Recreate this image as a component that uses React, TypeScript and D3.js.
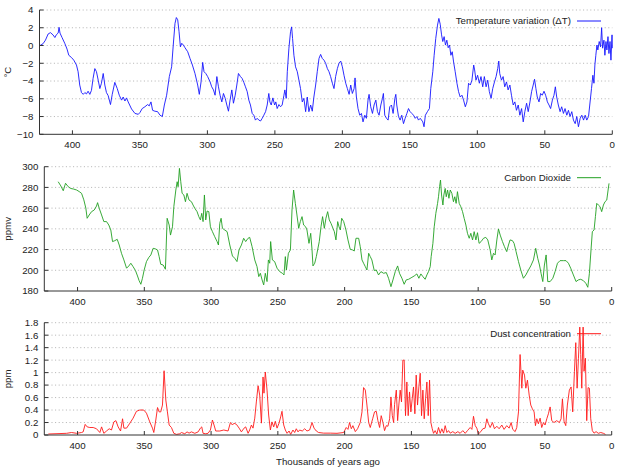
import { scaleLinear, line } from 'd3';

// Vostok ice core records: [thousands of years ago, value]
const temperature: [number, number][] = [
  [424, 0.0], [421.8, 0.2], [420, 0.6], [418, 1.3], [416.3, 1.45], [414.4, 1.2], [413, 0.9], [412, 1.2],
  [410.6, 1.4], [409.9, 2.05], [409.2, 1.4], [407.7, 0.9], [405.7, 0.25], [404, -0.4], [402.7, -1.1],
  [400.7, -1.35], [399, -1.65], [397, -2.2], [395.8, -2.95], [394.6, -4.45], [393.3, -5.3], [392, -5.5],
  [390.8, -5.3], [389.6, -5.45], [388.4, -5.15], [387.1, -5.5], [385.9, -5.05], [384.7, -3.7], [383.4, -2.6],
  [382.2, -2.95], [380.9, -3.9], [379.7, -4.85], [378.5, -4.25], [377.2, -3.15], [376, -4.45], [374.8, -5.3],
  [373.5, -5.65], [371.8, -6.65], [370.5, -5.5], [368.6, -4.15], [366.8, -4.85], [365.3, -5.6], [363.6, -6.15],
  [362.4, -5.8], [361.1, -6.25], [359.9, -5.9], [358.7, -6.35], [356.2, -7.15], [353.7, -7.65], [351.2, -7.75],
  [350, -7.55], [348.3, -7.1], [346.3, -6.9], [344.3, -6.65], [343.1, -6.8], [341.8, -6.35], [340.6, -7.3],
  [338.9, -7.4], [336.9, -7.45], [335.1, -7.85], [333.4, -8.0], [331.9, -6.7], [330.2, -5.6], [328.2, -3.5],
  [326.5, -2.4], [325.3, 0.05], [324, 2.5], [323, 3.15], [322, 2.9], [321, 1.55], [320, -0.15], [319, 0.25],
  [317.8, 0.05], [316.6, -0.25], [314.6, -0.7], [312.9, -1.45], [311.1, -2.2], [309.2, -3.15], [307.2, -4.45],
  [306, -5.5], [304.7, -4.1], [303.5, -1.9], [302.5, -2.95], [301.2, -3.15], [299.8, -3.5], [298, -4.1],
  [296.8, -4.65], [295.5, -5.0], [294.3, -5.6], [293, -3.5], [291.8, -4.65], [290.6, -5.6], [289.3, -6.35],
  [288.1, -5.4], [286.8, -5.95], [285.6, -6.7], [284.4, -7.4], [283.2, -6.15], [281.9, -5.0], [280.7, -6.5],
  [279.4, -5.6], [278.2, -4.45], [277, -3.15], [275.5, -3.5], [274.3, -3.7], [273, -4.15], [271.8, -4.65],
  [270.5, -5.2], [269.3, -6.15], [268.1, -6.7], [266.8, -7.65], [265.6, -7.85], [264.4, -8.4], [263.1, -8.2],
  [261.9, -8.4], [260.6, -8.5], [259.4, -8.2], [258.2, -7.85], [256.9, -7.45], [255.7, -6.7], [254.5, -5.4],
  [253.7, -6.35], [252.7, -6.7], [251.5, -5.9], [250.2, -6.7], [249.3, -6.35], [248.3, -7.1], [247, -6.65],
  [245.8, -6.9], [244.6, -6.7], [243.3, -5.6], [242.6, -5.0], [241.6, -5.95], [240.8, -2.95], [239.6, -0.3],
  [238.4, 1.55], [237.6, 2.1], [236.9, 0.8], [235.9, -1.1], [234.7, -2.4], [233.4, -2.95], [232.2, -3.9],
  [231, -4.85], [229.7, -6.35], [228.5, -5.95], [227.2, -7.45], [226, -5.8], [224.8, -7.45], [223.5, -6.7],
  [222.3, -7.4], [221.1, -5.8], [219.8, -4.45], [218.6, -2.95], [217.3, -1.45], [216.1, -1.0], [214.9, -1.45],
  [213.6, -1.65], [212.4, -2.0], [211.1, -2.6], [209.9, -2.95], [208.7, -3.5], [207.4, -4.25], [206.2, -4.85],
  [205, -3.5], [203.7, -2.6], [202.5, -2.0], [201.2, -1.75], [200, -2.4], [198.8, -3.35], [197.5, -4.25],
  [196.3, -4.85], [195, -5.5], [193.8, -4.45], [192.6, -5.4], [191.3, -4.85], [190.6, -3.65], [189.6, -5.8],
  [188.4, -7.1], [187.1, -7.85], [185.9, -7.65], [184.7, -8.6], [183.4, -7.85], [182.2, -8.2], [181, -6.15],
  [180.2, -5.5], [179, -6.9], [177.7, -7.65], [176.5, -6.7], [175.2, -6.15], [174, -7.45], [172.8, -7.85],
  [171.5, -6.7], [170.3, -5.95], [169.6, -5.4], [168.6, -7.85], [167.3, -8.2], [166.1, -8.4], [164.9, -6.9],
  [163.6, -6.7], [162.4, -7.65], [161.1, -5.95], [160.4, -5.5], [159.7, -6.7], [158.4, -8.0], [157.2, -8.4],
  [156, -7.85], [154.7, -8.8], [153.5, -8.2], [152.2, -7.65], [151, -7.1], [149.8, -7.45], [148.5, -7.65],
  [147.3, -7.85], [146, -8.2], [144.8, -8.0], [143.6, -8.4], [142.3, -8.2], [140.4, -8.6], [139.5, -9.15],
  [138.5, -7.85], [137, -7.45], [135.5, -7.1], [134.5, -4.85], [133, -2.95], [132, -1.1], [130.8, 0.8],
  [129.5, 2.3], [128.5, 3.05], [127.5, 2.4], [126.5, 1.2], [125.6, 0.45], [124.6, 1.0], [123.6, 0.05],
  [122.6, 0.6], [121.6, -0.25], [120.6, 0.05], [119.6, -1.1], [118.6, -0.7], [117.6, -1.85], [116.4, -2.95],
  [115.1, -4.25], [113.9, -5.2], [112.7, -5.8], [111.4, -5.6], [110.2, -6.15], [108.9, -6.9], [107.7, -6.35],
  [106.5, -4.25], [105.2, -4.45], [104, -3.9], [102.7, -2.2], [102, -2.75], [101, -3.9], [99.8, -3.35],
  [98.5, -4.25], [97.3, -3.5], [96, -4.65], [94.8, -3.5], [93.5, -4.65], [92.3, -3.9], [91.1, -5.2],
  [89.8, -5.95], [88.6, -4.85], [87.3, -4.1], [86.1, -3.5], [84.9, -2.6], [84.1, -1.75], [83.4, -3.15],
  [82.1, -3.9], [80.9, -3.5], [79.7, -4.65], [78.4, -4.1], [77.2, -5.0], [75.9, -4.45], [74.7, -5.6],
  [73.4, -6.7], [72.2, -6.35], [71, -7.3], [69.7, -6.7], [68.5, -7.85], [67.2, -7.1], [66, -8.6],
  [64.8, -7.45], [63.5, -6.5], [62.3, -7.45], [61, -6.35], [59.8, -5.2], [58.6, -4.45], [57.6, -3.8],
  [56.6, -4.85], [55.6, -5.8], [54.3, -6.35], [53.1, -5.4], [51.9, -5.6], [50.6, -5.15], [49.4, -5.6],
  [48.1, -6.35], [46.9, -6.7], [45.7, -7.1], [44.4, -6.15], [43.2, -5.6], [42.2, -4.65], [41.2, -5.8],
  [40, -6.7], [38.7, -7.45], [37.5, -6.9], [36.2, -7.65], [35, -7.1], [33.7, -7.85], [32.5, -7.3],
  [31.3, -8.0], [30, -7.45], [28.8, -8.4], [27.5, -8.8], [26.3, -8.0], [25.1, -9.15], [23.8, -8.2],
  [22.6, -7.85], [21.3, -8.4], [20.1, -7.85], [18.9, -8.4], [17.6, -8.0], [16.7, -6.7], [15.4, -4.85],
  [14.4, -3.35], [13.6, -4.25], [12.9, -2.2], [12.2, -1.1], [11.4, 0.05], [10.7, -0.5], [9.7, 0.45],
  [8.7, -0.15], [7.9, 2.0], [7.2, -0.3], [6.2, 0.6], [5.5, -1.1], [4.7, 0.45], [4.0, -0.5], [3.2, 1.0],
  [2.5, -0.9], [1.7, 0.45], [1.0, -1.65], [0.2, 1.2], [0, -0.3],
];

const carbonDioxide: [number, number][] = [
  [414.5, 285.5], [412.5, 281.4], [410.7, 276.8], [409, 284], [407, 280.7], [405.2, 279], [403.2, 278.5],
  [400.7, 277.5], [398.8, 276], [397, 274.3], [395.3, 268], [393.8, 260], [392.8, 250.2], [391.3, 253.4],
  [389.5, 256.6], [387.5, 258.2], [385.8, 262], [385, 265.3], [383.8, 260], [382, 253.4], [380.3, 247],
  [378.3, 247], [376.6, 243.7], [375.1, 238.9], [373.8, 227.7], [372.1, 228.6], [370.3, 229.9], [368.8, 224.4],
  [367.1, 216.4], [365.3, 210], [363.3, 202], [361.6, 204.2], [360.1, 206.8], [358.4, 203.5], [356.6, 199.7],
  [355.1, 194.5], [353.9, 190], [352.6, 186.5], [351.4, 192.3], [350.1, 200.3], [348.4, 208.4], [346.6, 212.5],
  [345.1, 214.8], [343.4, 221.2], [341.6, 220.6], [340.1, 219.6], [338.9, 213.2], [337.7, 205.8], [335.9, 205.1],
  [334.2, 201], [332.9, 250.2], [331.4, 243.7], [330.4, 234], [328.9, 242], [327.9, 261.4], [326.4, 277.5],
  [325.4, 285.5], [324.7, 280.7], [323.7, 298.4], [322.7, 285.5], [321.7, 274.3], [320.4, 272.7], [319.2, 266.2],
  [318, 274.3], [316.5, 267.8], [314.7, 266.2], [313.5, 263], [312.2, 259.8], [310.5, 256.6], [309.2, 251.8],
  [308, 248.6], [307, 255], [306, 247], [305, 272.7], [304, 248.6], [303, 257.2], [301.7, 256.6], [300.5, 242],
  [299, 237.3], [297.3, 232.5], [295.5, 227.7], [294.5, 224.4], [293.5, 245.3], [292.5, 250.2], [291.5, 240.5],
  [289.8, 238.9], [288, 237.3], [286, 224.4], [284, 213.8], [282.3, 211.6], [280.6, 208.4], [279.1, 219.6],
  [277.3, 224.4], [275.6, 230.9], [274.1, 227.7], [272.3, 230.9], [271.1, 231.8], [269.3, 222.8], [267.3, 210],
  [265.6, 203.5], [264.3, 193.9], [263.1, 197.1], [261.8, 190.7], [260.6, 185.9], [259.4, 197.1], [258.1, 189.1],
  [257.1, 210], [256.1, 206.8], [255.4, 227.7], [254.1, 210], [252.4, 208.4], [250.6, 202], [248.6, 198.7],
  [246.6, 197.1], [245.4, 195.5], [244.4, 213.2], [243.6, 200.3], [242.1, 216.4], [240.6, 219.6], [239.4, 258.2],
  [238.2, 277.5], [236.9, 264.6], [235.7, 253.4], [234.4, 240.5], [233.2, 246.9], [231.9, 251.8], [230.7, 243.7],
  [229.2, 242], [228.2, 238.9], [226.7, 226], [225.4, 235.7], [224.4, 219.6], [223.7, 204.2], [222.4, 206.8],
  [221.2, 213.2], [219, 227.7], [217.7, 242], [216.5, 251.8], [215.2, 240.5], [214, 250.2], [212.7, 256.6],
  [211.5, 248.6], [210.2, 245.3], [208.7, 240.5], [207.7, 237.3], [206.5, 229.3], [205.2, 247], [204.2, 242],
  [203.2, 238.9], [202.2, 250.2], [200.7, 247], [199, 238.9], [197.5, 229.3], [195.8, 220.3], [194, 219.6],
  [192.8, 218.6], [191.5, 230.9], [189.5, 230.9], [188.3, 222.8], [187, 210], [185.8, 206.8], [184.5, 203.5],
  [183.3, 200.3], [182, 216.4], [180.8, 213.2], [179.6, 210], [177.8, 199.7], [176.3, 200.3], [174.6, 195.5],
  [172.8, 198.7], [170.8, 197.1], [168.8, 197.8], [167.1, 192.3], [165.3, 184.2], [163.8, 190.7], [162.1, 198.7],
  [160.3, 204.2], [158.9, 197.1], [157.1, 192.3], [155.4, 186.5], [153.9, 190.7], [152.1, 191.3], [149.6, 193.2],
  [147.9, 194.5], [145.9, 196.5], [144.4, 192.3], [142.9, 196.5], [141.4, 193.9], [139.7, 191.3], [138.4, 195.5],
  [137.2, 198.7], [135.9, 203.5], [135.2, 213.2], [133.9, 226], [132.9, 242], [131.7, 255], [130.4, 264.6],
  [129.7, 271], [128.9, 280.7], [128.2, 287.1], [127.4, 272.7], [126.4, 263], [125.7, 272.7], [124.7, 279],
  [123.9, 271], [122.9, 277.5], [121.9, 269.5], [120.9, 277.5], [119.7, 274.3], [118.5, 266.2], [117.5, 271],
  [116.5, 264.6], [115.5, 275.9], [114.2, 264.6], [113, 261.4], [111.7, 256.6], [110.5, 250.2], [109.2, 243.7],
  [108, 235.7], [106.7, 230.9], [105.5, 235.7], [104.2, 229.3], [103, 237.3], [101.7, 229.3], [100.5, 236.3],
  [99.3, 226], [97.8, 227.7], [96, 230.9], [94.3, 231.8], [92.8, 229.3], [91, 219.6], [89.8, 210], [88.5, 216.4],
  [87.3, 214.8], [86, 229.3], [84.8, 239.9], [83.5, 234], [81.8, 227.7], [80.3, 222.8], [78.6, 218], [77.3, 224.4],
  [76.1, 229.3], [74.3, 228.6], [73.1, 226], [71.6, 218], [69.8, 208.4], [68.1, 200.3], [66.1, 192.3],
  [64.3, 195.5], [62.3, 200.3], [60.6, 204.2], [58.6, 210], [56.9, 221.2], [55.4, 211.6], [54.1, 205.1],
  [52.9, 197.1], [51.6, 189.1], [50.4, 205.1], [49.1, 214.8], [47.9, 189.1], [46.1, 189.1], [44.1, 192.3],
  [42.4, 198.7], [40.6, 206.8], [38.7, 209.3], [36.2, 209.3], [34.2, 209.3], [32.4, 206.8], [30.7, 202],
  [28.7, 195.5], [26.7, 189.1], [25, 190.7], [23.2, 191.3], [21.2, 190], [19.4, 187.5], [17.9, 183.6],
  [16.7, 197.1], [15.5, 219.6], [14.5, 237.3], [13.2, 238.9], [12.2, 251.8], [11.2, 264.6], [10, 263],
  [8.7, 261.4], [7.5, 256.6], [6.2, 263], [5, 266.2], [3.7, 267.8], [2.7, 277.5], [2.0, 283.9],
];

const dust: [number, number][] = [
  [421.9, 0.016], [408.2, 0.027], [404.5, 0.04], [400.7, 0.027], [397, 0.04], [395.8, 0.05], [394.3, 0.17],
  [392.8, 0.13], [390.8, 0.12], [388.3, 0.12], [385.8, 0.1], [383.3, 0.04], [382, 0.13], [380.3, 0.027],
  [378.3, 0.064], [376.3, 0.1], [374.6, 0.08], [372.8, 0.21], [371.3, 0.23], [369.6, 0.13], [367.8, 0.064],
  [366.3, 0.26], [365.3, 0.11], [363.3, 0.11], [360.8, 0.19], [358.4, 0.27], [355.9, 0.38], [353.4, 0.4],
  [350.4, 0.4], [348.4, 0.35], [345.9, 0.21], [343.9, 0.11], [342.9, 0.04], [341.4, 0.24], [340.1, 0.44],
  [338.9, 0.37], [337.7, 0.37], [336.4, 0.48], [335.2, 1.03], [333.9, 0.56], [332.7, 0.37], [331.4, 0.16],
  [329.7, 0.12], [327.9, 0.027], [325.9, 0.01], [323.4, 0.02], [322.2, 0.04], [319.7, 0.02], [318, 0.05],
  [316.5, 0.03], [314.7, 0.05], [312.2, 0.027], [309.7, 0.05], [308, 0.11], [307, 0.13], [306, 0.027],
  [304, 0.02], [302.3, 0.027], [300.5, 0.08], [299, 0.24], [297.8, 0.16], [296.5, 0.064], [293.5, 0.064],
  [290.5, 0.08], [287.3, 0.064], [285.5, 0.2], [284, 0.16], [282.8, 0.19], [281, 0.17], [279, 0.11],
  [277.3, 0.05], [275.3, 0.11], [274.1, 0.13], [272.3, 0.027], [271.1, 0.08], [269.8, 0.16], [268.6, 0.11],
  [267.3, 0.27], [266.1, 0.53], [264.8, 0.79], [263.6, 0.64], [262.3, 0.19], [261.1, 0.93], [260.4, 0.67],
  [259.4, 1.01], [258.1, 0.72], [256.9, 0.32], [255.6, 0.08], [254.4, 0.21], [253.1, 0.13], [251.9, 0.22],
  [250.6, 0.11], [249.1, 0.19], [247.9, 0.29], [246.9, 0.38], [245.6, 0.16], [244.4, 0.08], [243.1, 0.027],
  [241.6, 0.064], [240.4, 0.01], [238.7, 0.08], [237.4, 0.04], [236.2, 0.1], [234.9, 0.05], [233.7, 0.08],
  [231.7, 0.064], [229.9, 0.1], [228.2, 0.064], [226.2, 0.08], [224.4, 0.2], [222.9, 0.11], [221.2, 0.064],
  [219.5, 0.04], [215.7, 0.03], [210.7, 0.03], [205.7, 0.027], [200.7, 0.04], [198.8, 0.12], [197.5, 0.09],
  [196.3, 0.2], [195, 0.1], [193.8, 0.15], [192, 0.054], [190.3, 0.1], [188.3, 0.2], [187, 0.37], [185.8, 0.76],
  [184.5, 0.72], [183.3, 0.48], [182, 0.2], [180.8, 0.12], [179, 0.26], [177.6, 0.37], [176.3, 0.38],
  [175.1, 0.23], [173.8, 0.12], [172.6, 0.31], [171.3, 0.2], [170.1, 0.07], [168.8, 0.15], [167.6, 0.14],
  [166.3, 0.26], [165.3, 0.61], [164.3, 0.31], [163.3, 0.2], [162.6, 0.49], [161.3, 0.72], [160.3, 0.23],
  [159.4, 0.48], [158.4, 0.72], [157.4, 0.53], [156.4, 1.2], [155.4, 1.2], [154.4, 0.31], [153.4, 0.85],
  [152.4, 0.31], [151.4, 0.69], [150.4, 0.37], [149.4, 0.58], [148.4, 0.77], [147.4, 0.34], [146.4, 0.96],
  [145.4, 0.48], [144.4, 0.77], [143.4, 0.99], [142.4, 0.31], [141.4, 0.72], [140.4, 0.26], [139.4, 0.58],
  [138.4, 0.85], [137.4, 0.31], [136.4, 0.88], [135.4, 0.2], [134.4, 0.1], [133.4, 0.027], [132.2, 0.07],
  [130.9, 0.016], [129.7, 0.12], [128.4, 0.027], [127.2, 0.1], [125.9, 0.03], [124.7, 0.15], [123.4, 0.04],
  [122.2, 0.07], [120.9, 0.03], [119, 0.054], [117.2, 0.027], [115.2, 0.054], [113.5, 0.027], [111.5, 0.07],
  [109.7, 0.027], [108, 0.07], [106, 0.12], [104.7, 0.09], [103.5, 0.3], [102.2, 0.15], [101, 0.11],
  [99.8, 0.016], [98, 0.054], [96.5, 0.1], [94.8, 0.11], [93.5, 0.26], [92.3, 0.18], [91, 0.12], [89.3, 0.2],
  [87.8, 0.1], [86, 0.14], [84.3, 0.1], [82.3, 0.16], [80.6, 0.09], [78.6, 0.15], [76.8, 0.11], [75.3, 0.2],
  [74.1, 0.09], [72.3, 0.054], [71.1, 0.12], [69.8, 0.37], [68.6, 1.29], [67.3, 0.75], [66.6, 1.04],
  [65.3, 0.96], [64.3, 0.75], [63.1, 0.88], [61.8, 0.64], [60.6, 0.48], [59.4, 0.42], [58.1, 0.37],
  [57.1, 0.15], [56.1, 0.26], [54.9, 0.18], [53.6, 0.27], [52.4, 0.12], [51.1, 0.2], [49.9, 0.16],
  [48.6, 0.26], [47.4, 0.34], [46.1, 0.45], [44.9, 0.23], [43.2, 0.2], [41.2, 0.23], [39.2, 0.2],
  [37.9, 0.26], [36.9, 0.58], [35.7, 0.22], [34.4, 0.15], [33.2, 0.48], [31.7, 0.72], [30.4, 0.77],
  [29.2, 0.37], [27.9, 1.02], [26.9, 1.48], [25.9, 0.75], [24.9, 1.23], [23.9, 1.73], [23.2, 1.29],
  [22.4, 0.75], [21.4, 1.73], [20.7, 1.02], [19.7, 1.23], [18.7, 0.23], [17.7, 0.76], [16.7, 0.75],
  [15.7, 0.26], [14.5, 0.07], [13.2, 0.03], [11.7, 0.054], [10, 0.027], [8.2, 0.04], [6.2, 0.027], [4.7, 0.01],
];

const xTicks = [400, 350, 300, 250, 200, 150, 100, 50, 0];
const tempTicks = [-10, -8, -6, -4, -2, 0, 2, 4];
const co2Ticks = [180, 200, 220, 240, 260, 280, 300];
const dustTicks = [0, 0.2, 0.4, 0.6, 0.8, 1, 1.2, 1.4, 1.6, 1.8];

const FONT = '"Liberation Sans", Arial, Helvetica, sans-serif';
const AXIS = '#333';

type Box = { left: number; right: number; top: number; bottom: number };

type PanelProps = {
  box: Box;
  xMax: number;
  data: [number, number][];
  yTicks: number[];
  color: string;
  yLabel: string;
  legend: string;
};

const fmt = (v: number) => String(Math.round(v * 10) / 10).replace('-', '\u2212');

const Panel = ({ box, xMax, data, yTicks, color, yLabel, legend }: PanelProps) => {
  const x = scaleLinear().domain([xMax, 0]).range([box.left, box.right]);
  const y = scaleLinear()
    .domain([yTicks[0], yTicks[yTicks.length - 1]])
    .range([box.bottom, box.top]);
  const path = line<[number, number]>()
    .x((d) => x(d[0]))
    .y((d) => y(d[1]))(data) ?? '';

  return (
    <g fontFamily={FONT} fontSize={9.7} fill="#222">
      {yTicks.slice(1).map((t) => (
        <line key={'g' + t} x1={box.left} x2={box.right} y1={y(t)} y2={y(t)}
          stroke="#a0a0a0" strokeWidth={0.8} strokeDasharray="1,2.6" />
      ))}
      <path d={path} fill="none" stroke={color} strokeWidth={0.9} strokeLinejoin="round" />
      <line x1={box.left} x2={box.left} y1={box.top} y2={box.bottom} stroke={AXIS} strokeWidth={1} />
      <line x1={box.left} x2={box.right} y1={box.bottom} y2={box.bottom} stroke={AXIS} strokeWidth={1} />
      {yTicks.map((t) => (
        <g key={'y' + t}>
          <line x1={box.left} x2={box.left + 4} y1={y(t)} y2={y(t)} stroke={AXIS} />
          <text x={box.left - 6} y={y(t)} dy="0.35em" textAnchor="end">{fmt(t)}</text>
        </g>
      ))}
      {xTicks.map((t) => (
        <g key={'x' + t}>
          <line x1={x(t)} x2={x(t)} y1={box.bottom} y2={box.bottom - 4} stroke={AXIS} />
          <text x={x(t)} y={box.bottom + 14} textAnchor="middle">{t}</text>
        </g>
      ))}
      <text transform={`translate(11,${(box.top + box.bottom) / 2}) rotate(-90)`} textAnchor="middle">
        {yLabel}
      </text>
      <text x={571} y={box.top + 14.3} textAnchor="end">{legend}</text>
      <line x1={577} x2={601} y1={box.top + 11} y2={box.top + 11} stroke={color} strokeWidth={1} />
    </g>
  );
};

export default function App() {
  return (
    <svg width={627} height={470} style={{ position: 'absolute', left: 0, top: 0, background: '#fff' }}>
      <Panel box={{ left: 39.5, right: 612.3, top: 10, bottom: 134.3 }} xMax={424.4}
        data={temperature} yTicks={tempTicks} color="#1515ff" yLabel="°C" legend="Temperature variation (ΔT)" />
      <Panel box={{ left: 44.3, right: 611.7, top: 166.7, bottom: 291 }} xMax={424.9}
        data={carbonDioxide} yTicks={co2Ticks} color="#22a022" yLabel="ppmv" legend="Carbon Dioxide" />
      <Panel box={{ left: 44.3, right: 611.7, top: 322.7, bottom: 435 }} xMax={424.9}
        data={dust} yTicks={dustTicks} color="#ff1a1a" yLabel="ppm" legend="Dust concentration" />
      <text x={328} y={464.5} textAnchor="middle" fontFamily={FONT} fontSize={9.7} fill="#222">
        Thousands of years ago
      </text>
    </svg>
  );
}
